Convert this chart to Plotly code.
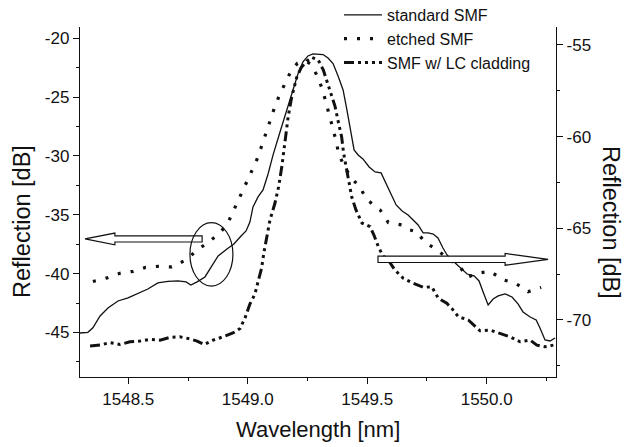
import plotly.graph_objects as go

# ---------------- data ----------------
std_wl = [1548.298, 1548.331, 1548.352, 1548.382, 1548.415, 1548.457, 1548.499, 1548.541, 1548.582, 1548.624,
          1548.666, 1548.708, 1548.742, 1548.762, 1548.788, 1548.821, 1548.850, 1548.876, 1548.913, 1548.942,
          1548.972, 1548.993, 1549.009, 1549.022, 1549.043, 1549.064, 1549.085, 1549.106, 1549.135, 1549.160,
          1549.185, 1549.210, 1549.231, 1549.252, 1549.273, 1549.294, 1549.315, 1549.336, 1549.357, 1549.378,
          1549.399, 1549.415, 1549.432, 1549.445, 1549.462, 1549.482, 1549.508, 1549.533, 1549.558, 1549.579,
          1549.600, 1549.621, 1549.646, 1549.671, 1549.692, 1549.713, 1549.734, 1549.755, 1549.776, 1549.796,
          1549.817, 1549.834, 1549.859, 1549.889, 1549.918, 1549.947, 1549.968, 1549.985, 1550.006, 1550.027,
          1550.048, 1550.077, 1550.106, 1550.131, 1550.152, 1550.182, 1550.207, 1550.223, 1550.244, 1550.265,
          1550.286]
std_db = [-45.04, -44.98, -44.60, -43.59, -42.91, -42.32, -42.06, -41.64, -41.30, -40.79,
          -40.66, -40.62, -40.70, -40.96, -40.70, -40.28, -39.35, -38.50, -37.90, -37.48,
          -36.80, -36.37, -35.61, -34.33, -33.48, -32.89, -31.53, -29.91, -27.96, -26.35,
          -24.65, -23.03, -22.01, -21.50, -21.33, -21.33, -21.38, -21.67, -22.14, -23.20,
          -24.39, -26.09, -28.22, -29.49, -29.91, -30.25, -30.93, -31.36, -31.44, -32.38,
          -33.31, -34.16, -34.67, -35.01, -35.44, -35.86, -36.54, -36.54, -36.63, -36.97,
          -37.82, -38.41, -38.92, -39.52, -40.03, -40.19, -40.62, -41.55, -42.66, -42.15,
          -41.89, -41.72, -41.98, -42.57, -43.25, -43.68, -43.93, -44.61, -45.63, -45.72,
          -45.46]

etch_wl = [1548.352, 1548.411, 1548.465, 1548.520, 1548.572, 1548.626, 1548.682, 1548.737, 1548.783, 1548.829,
           1548.874, 1548.913, 1548.938, 1548.960, 1548.989, 1549.014, 1549.037, 1549.056, 1549.074, 1549.090,
           1549.110, 1549.132, 1549.158, 1549.181, 1549.208, 1549.247, 1549.268, 1549.295, 1549.314, 1549.329,
           1549.344, 1549.359, 1549.371, 1549.380, 1549.407, 1549.441, 1549.470, 1549.495, 1549.554, 1549.588,
           1549.644, 1549.679, 1549.707, 1549.742, 1549.791, 1549.840, 1549.886, 1549.918, 1549.968, 1550.016,
           1550.064, 1550.119, 1550.173, 1550.228]
etch_db = [-40.66, -40.36, -39.97, -39.80, -39.47, -39.37, -39.43, -38.88, -38.10, -37.43,
           -36.71, -35.86, -34.78, -33.68, -32.55, -31.49, -30.38, -29.28, -28.22, -27.09,
           -26.01, -24.86, -23.71, -22.78, -22.12, -21.99, -22.24, -23.40, -24.43, -25.56,
           -26.69, -27.71, -28.81, -29.79, -31.02, -32.04, -32.63, -33.65, -34.59, -35.65,
           -35.86, -36.29, -36.43, -37.35, -37.94, -38.78, -39.35, -40.30, -39.94, -39.80,
           -40.50, -40.79, -41.53, -41.17]

lc_wl = [1548.340, 1548.382, 1548.423, 1548.465, 1548.507, 1548.549, 1548.591, 1548.633, 1548.675, 1548.716,
         1548.758, 1548.788, 1548.817, 1548.855, 1548.896, 1548.938, 1548.968, 1548.989, 1549.009, 1549.030,
         1549.045, 1549.058, 1549.068, 1549.081, 1549.093, 1549.114, 1549.129, 1549.143, 1549.156, 1549.169,
         1549.184, 1549.205, 1549.223, 1549.247, 1549.269, 1549.295, 1549.316, 1549.332, 1549.351, 1549.365,
         1549.379, 1549.393, 1549.401, 1549.411, 1549.422, 1549.435, 1549.453, 1549.478, 1549.512, 1549.528,
         1549.547, 1549.566, 1549.588, 1549.616, 1549.651, 1549.693, 1549.735, 1549.770, 1549.798, 1549.833,
         1549.854, 1549.881, 1549.923, 1549.951, 1549.972, 1550.014, 1550.056, 1550.098, 1550.140, 1550.182,
         1550.210, 1550.244, 1550.279]
lc_db = [-71.42, -71.37, -71.23, -71.34, -71.19, -71.15, -71.06, -71.10, -70.95, -70.92,
         -71.03, -71.15, -71.34, -71.10, -70.92, -70.71, -70.46, -69.87, -69.13, -68.59,
         -67.82, -67.17, -66.29, -65.42, -64.55, -63.62, -62.75, -61.60, -60.35, -58.93,
         -57.84, -56.77, -56.25, -55.87, -55.68, -55.82, -56.36, -57.02, -57.82, -58.33,
         -59.20, -60.02, -60.89, -61.66, -62.37, -63.28, -64.00, -64.71, -64.91, -65.37,
         -66.02, -66.51, -66.73, -67.28, -67.73, -68.00, -68.22, -68.19, -68.82, -69.09,
         -69.37, -69.82, -70.00, -70.37, -70.59, -70.55, -70.73, -70.92, -71.19, -71.10,
         -71.37, -71.46, -71.37]

series_names = ["standard SMF", "etched SMF", "SMF w/ LC cladding"]

x_tick_vals = [1548.5, 1549.0, 1549.5, 1550.0]
x_tick_text = ["1548.5", "1549.0", "1549.5", "1550.0"]
x_minor_vals = [1548.75, 1549.25, 1549.75, 1550.25]
y_tick_vals = [-20, -25, -30, -35, -40, -45]
y_tick_text = ["-20", "-25", "-30", "-35", "-40", "-45"]
y_minor_vals = [-22.5, -27.5, -32.5, -37.5, -42.5, -47.5]
y2_tick_vals = [-55, -60, -65, -70]
y2_tick_text = ["-55", "-60", "-65", "-70"]
y2_minor_vals = [-57.5, -62.5, -67.5, -72.5]

x_title = "Wavelength [nm]"
y_title = "Reflection [dB]"

FONT = "Liberation Sans, Arial, sans-serif"
BLACK = "#111111"

fig = go.Figure()
fig.add_trace(go.Scatter(x=std_wl, y=std_db, name=series_names[0], mode="lines",
                         line=dict(color=BLACK, width=1.3)))
fig.add_trace(go.Scatter(x=etch_wl, y=etch_db, name=series_names[1], mode="lines",
                         line=dict(color=BLACK, width=3.2, dash="3px,10px")))
fig.add_trace(go.Scatter(x=lc_wl, y=lc_db, name=series_names[2], mode="lines", yaxis="y2",
                         line=dict(color=BLACK, width=3, dash="10px,4px,3px,4px,3px,4px,3px,4px")))

axis_common = dict(showgrid=False, zeroline=False, showline=True, linecolor=BLACK, linewidth=1.3,
                   ticks="outside", ticklen=6, tickwidth=1.2, tickcolor=BLACK,
                   tickfont=dict(family=FONT, size=17, color=BLACK), tickmode="array")

fig.update_layout(
    width=624, height=447,
    margin=dict(l=80, r=68, t=27, b=70, autoexpand=False),
    paper_bgcolor="white", plot_bgcolor="white",
    font=dict(family=FONT, color=BLACK),
    showlegend=True,
    legend=dict(x=(339 - 80) / 476, xanchor="left", y=(377 + 2) / 350, yanchor="top",
                bgcolor="rgba(0,0,0,0)", font=dict(family=FONT, size=16, color=BLACK),
                tracegroupgap=0, itemwidth=38),
    xaxis=dict(range=[1548.298, 1550.29], tickvals=x_tick_vals, ticktext=x_tick_text, tickangle=0,
               minor=dict(tickmode="array", tickvals=x_minor_vals, ticks="outside", ticklen=3,
                          tickcolor=BLACK), **axis_common),
    yaxis=dict(range=[-48.78, -19.04], tickvals=y_tick_vals, ticktext=y_tick_text,
               minor=dict(tickmode="array", tickvals=y_minor_vals, ticks="outside", ticklen=3,
                          tickcolor=BLACK), **axis_common),
    yaxis2=dict(range=[-73.11, -54.02], overlaying="y", side="right", tickvals=y2_tick_vals,
                ticktext=y2_tick_text,
                minor=dict(tickmode="array", tickvals=y2_minor_vals, ticks="outside", ticklen=3,
                           tickcolor=BLACK), **axis_common),
)

# axis titles
fig.add_annotation(text=x_title, xref="paper", yref="paper", x=0.5, y=-0.151, showarrow=False,
                   font=dict(family=FONT, size=22, color=BLACK), xanchor="center", yanchor="middle")
fig.add_annotation(text=y_title, xref="paper", yref="paper", x=(22 - 80) / 476, y=0.443, showarrow=False,
                   textangle=-90, font=dict(family=FONT, size=23.5, color=BLACK), xanchor="center", yanchor="middle")
fig.add_annotation(text=y_title, xref="paper", yref="paper", x=(611 - 80) / 476, y=0.443, showarrow=False,
                   textangle=90, font=dict(family=FONT, size=23.5, color=BLACK), xanchor="center", yanchor="middle")

# hollow block arrows and ellipse (annotation decorations, in data units)
def block_arrow(x_tail, x_base, x_tip, yc, half_shaft, half_head):
    return (f"M {x_tail},{yc + half_shaft} L {x_base},{yc + half_shaft} L {x_base},{yc + half_head} "
            f"L {x_tip},{yc} L {x_base},{yc - half_head} L {x_base},{yc - half_shaft} "
            f"L {x_tail},{yc - half_shaft} Z")

fig.add_shape(type="path", xref="x", yref="y", path=block_arrow(1548.809, 1548.444, 1548.319, -37.05, 0.26, 0.5),
              line=dict(color=BLACK, width=1.2), fillcolor="white")
fig.add_shape(type="path", xref="x", yref="y", path=block_arrow(1549.545, 1550.077, 1550.257, -38.78, 0.27, 0.5),
              line=dict(color=BLACK, width=1.2), fillcolor="white")
fig.add_shape(type="circle", xref="x", yref="y", x0=1548.758, x1=1548.938, y0=-41.05, y1=-35.67,
              line=dict(color=BLACK, width=1.2))

fig.write_html("out.html", config={"displayModeBar": False},
               post_script="document.body.style.margin='0';document.body.style.overflow='hidden';")
